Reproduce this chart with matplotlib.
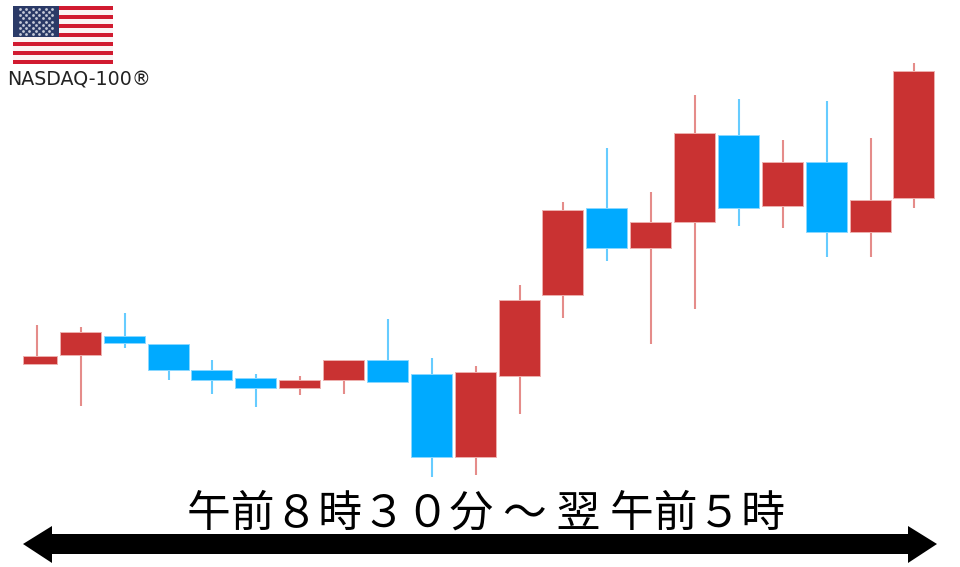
import matplotlib
matplotlib.use("Agg")
import matplotlib.pyplot as plt
from matplotlib.patches import Rectangle, Polygon

plt.rcParams['font.family'] = ['Noto Sans CJK JP', 'DejaVu Sans']

centers = [37, 81, 125, 169, 212, 256, 300, 344, 388, 432, 476, 520, 563, 607, 651, 695, 739, 783, 827, 871, 914]
body_top = [356, 332, 336, 344, 370, 378, 380, 360, 360, 374, 372, 300, 210, 208, 222, 133, 135, 162, 162, 200, 71]
body_bot = [364, 355, 343, 370, 380, 388, 388, 380, 382, 457, 457, 376, 295, 248, 248, 222, 208, 206, 232, 232, 198]
wick_hi = [325, 327, 313, 344, 360, 374, 376, 360, 319, 358, 366, 285, 202, 148, 192, 95, 99, 140, 101, 138, 63]
wick_lo = [364, 406, 348, 380, 394, 407, 395, 394, 382, 477, 475, 414, 318, 261, 344, 309, 226, 228, 257, 257, 208]
is_red = [1, 1, 0, 0, 0, 0, 1, 1, 0, 0, 1, 1, 1, 0, 1, 1, 0, 1, 0, 1, 1]

title = "午前８時３０分 ～ 翌 午前５時"
index_name = "NASDAQ-100®"

RED = "#C93232"
BLUE = "#00AAFF"
RED_W = "#E58C8A"
BLUE_W = "#66CCFF"
RED_E = "#EDB0AE"
BLUE_E = "#8AD8FF"

fig = plt.figure(figsize=(9.6, 5.67), dpi=100)
ax = fig.add_axes([0, 0, 1, 1])
ax.set_xlim(0, 960)
ax.set_ylim(567, 0)
ax.axis("off")

for i in range(len(centers)):
    x = centers[i]
    ax.vlines(x + 0.2, wick_hi[i], wick_lo[i], color=RED_W if is_red[i] else BLUE_W, lw=1.5, zorder=2)
    # first candle is cut off on the left in the original
    left = max(x - 20.6, 23)
    right = x + 20.2 if i > 0 else 57
    ax.add_patch(Rectangle((left, body_top[i]), right - left, body_bot[i] - body_top[i],
                           fc=RED if is_red[i] else BLUE, ec=RED_E if is_red[i] else BLUE_E,
                           lw=0.7, zorder=3))

# flag
fx, fy, fw, fh = 13, 6, 100, 58
for s in range(13):
    c = "#D11A30" if s % 2 == 0 else "#FBF4F4"
    ax.add_patch(Rectangle((fx, fy + s * fh / 13), fw, fh / 13 + 0.2, fc=c, ec="none"))
cw = 46
ch = fh * 7 / 13
ax.add_patch(Rectangle((fx, fy), cw, ch, fc="#2B3A67", ec="none"))
sx = []
sy = []
for r in range(9):
    n = 6 if r % 2 == 0 else 5
    for k in range(n):
        sx.append(fx + cw * (k + (1 if r % 2 == 0 else 1.5)) / 7)
        sy.append(fy + ch * (r + 1) / 10)
ax.scatter(sx, sy, s=4, c="#C8CCDA", linewidths=0, zorder=5)

ax.text(7.5, 80, index_name, fontsize=13.7, color="#222222", va="center", ha="left",
        family=['DejaVu Sans'])

ax.text(486, 514, title, fontsize=31.5, color="black", va="center", ha="center")

# double arrow
ax.add_patch(Polygon([(23, 544), (52, 526), (52, 534), (908, 534), (908, 526), (937, 544),
                      (908, 563), (908, 554), (52, 554), (52, 563)], closed=True, fc="black", ec="none"))

fig.savefig("out.png", dpi=100)
